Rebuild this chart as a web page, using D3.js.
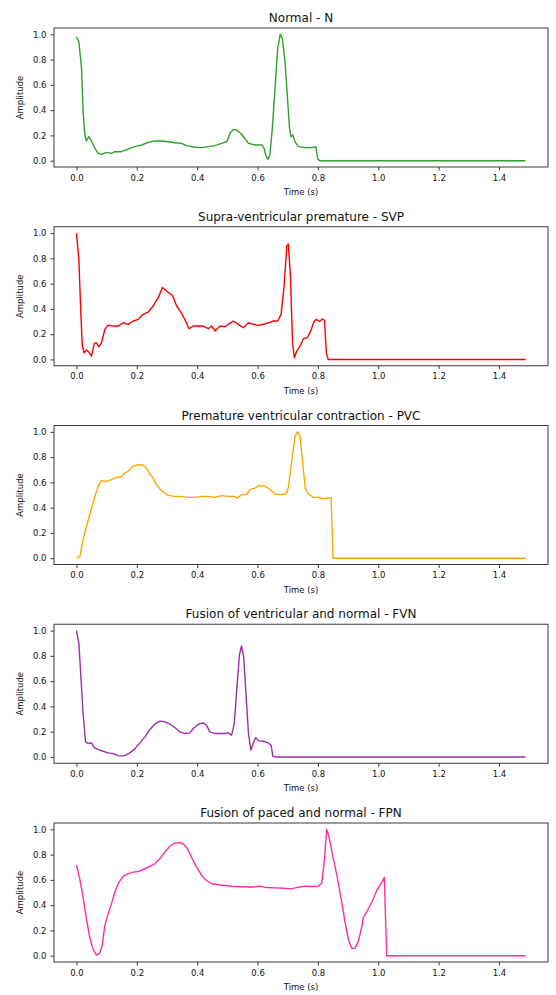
<!DOCTYPE html>
<html>
<head>
<meta charset="utf-8">
<script src="https://cdn.jsdelivr.net/npm/d3@7"></script>
<style>
body{margin:0;background:#fff}
svg{display:block;font-family:"DejaVu Sans",sans-serif}
</style>
</head>
<body>
<script>
// titles and colours of the five beat classes
var titles = ['Normal - N', 'Supra-ventricular premature - SVP', 'Premature ventricular contraction - PVC',
              'Fusion of ventricular and normal - FVN', 'Fusion of paced and normal - FPN'];
var colors = ['#2ca02c', '#ff0000', '#ffa500', '#9a2fa8', '#ff2f9c'];
var xTicks = [0, 0.2, 0.4, 0.6, 0.8, 1.0, 1.2, 1.4];
var yTicks = [0, 0.2, 0.4, 0.6, 0.8, 1.0];

// time (s) and amplitude
var nT = [0,0.008,0.017,0.022,0.028,0.033,0.041,0.05,0.061,0.072,0.083,0.1,0.116,0.127,0.149,0.171,0.194,0.216,0.238,0.26,0.282,0.304,0.326,0.348,0.365,0.393,0.415,0.437,0.459,0.481,0.498,0.509,0.52,0.531,0.547,0.57,0.592,0.614,0.622,0.627,0.634,0.641,0.649,0.658,0.667,0.675,0.682,0.691,0.7,0.706,0.711,0.717,0.724,0.735,0.758,0.78,0.793,0.8,0.806,1.488];
var nV = [0.98,0.94,0.73,0.39,0.2,0.156,0.19,0.156,0.098,0.058,0.05,0.066,0.058,0.071,0.071,0.092,0.111,0.124,0.145,0.156,0.156,0.15,0.142,0.137,0.119,0.106,0.103,0.111,0.119,0.137,0.15,0.217,0.248,0.243,0.209,0.137,0.124,0.124,0.098,0.045,0.01,0.045,0.256,0.574,0.891,1.0,0.97,0.785,0.468,0.256,0.19,0.204,0.151,0.111,0.103,0.103,0.11,0.01,0,0];

var svpT = [0,0.008,0.014,0.019,0.025,0.033,0.041,0.05,0.059,0.066,0.074,0.083,0.094,0.105,0.122,0.138,0.155,0.171,0.188,0.205,0.221,0.238,0.254,0.271,0.285,0.302,0.318,0.332,0.348,0.359,0.373,0.387,0.404,0.42,0.437,0.448,0.459,0.476,0.492,0.503,0.52,0.536,0.553,0.57,0.586,0.603,0.619,0.636,0.652,0.667,0.678,0.688,0.697,0.702,0.709,0.716,0.722,0.73,0.741,0.752,0.765,0.777,0.787,0.795,0.805,0.815,0.822,0.828,0.834,1.488];
var svpV = [1.0,0.79,0.4,0.12,0.053,0.074,0.058,0.026,0.127,0.132,0.1,0.132,0.238,0.27,0.264,0.264,0.29,0.278,0.304,0.317,0.357,0.375,0.423,0.489,0.569,0.534,0.508,0.423,0.365,0.317,0.243,0.264,0.264,0.264,0.243,0.264,0.225,0.264,0.259,0.278,0.304,0.278,0.251,0.29,0.278,0.27,0.278,0.29,0.304,0.304,0.357,0.582,0.899,0.913,0.661,0.132,0.013,0.066,0.106,0.164,0.172,0.23,0.3,0.317,0.3,0.32,0.31,0.05,0,0];

var pvcT = [0,0.011,0.022,0.033,0.044,0.061,0.072,0.083,0.1,0.116,0.133,0.147,0.16,0.171,0.188,0.205,0.221,0.232,0.243,0.254,0.265,0.282,0.304,0.326,0.348,0.37,0.393,0.415,0.437,0.459,0.481,0.503,0.52,0.534,0.547,0.564,0.575,0.592,0.605,0.625,0.642,0.658,0.675,0.694,0.702,0.713,0.724,0.733,0.741,0.749,0.758,0.769,0.785,0.802,0.818,0.835,0.844,0.85,1.488];
var pvcV = [0,0.013,0.145,0.251,0.344,0.489,0.569,0.614,0.608,0.622,0.64,0.64,0.674,0.688,0.727,0.741,0.735,0.714,0.666,0.635,0.582,0.534,0.497,0.489,0.489,0.481,0.481,0.489,0.489,0.481,0.495,0.489,0.489,0.476,0.503,0.503,0.542,0.555,0.576,0.569,0.542,0.508,0.503,0.508,0.555,0.767,0.965,1.0,0.965,0.767,0.555,0.508,0.481,0.481,0.47,0.476,0.476,0,0];

var fvnT = [0,0.008,0.014,0.022,0.03,0.039,0.05,0.059,0.072,0.088,0.105,0.122,0.138,0.149,0.16,0.177,0.194,0.21,0.227,0.243,0.26,0.276,0.293,0.31,0.326,0.343,0.359,0.376,0.387,0.404,0.42,0.431,0.442,0.459,0.476,0.492,0.503,0.514,0.523,0.531,0.54,0.547,0.554,0.561,0.57,0.578,0.586,0.594,0.603,0.619,0.636,0.645,0.651,0.658,1.488];
var fvnV = [1.0,0.9,0.661,0.344,0.119,0.106,0.111,0.074,0.058,0.045,0.032,0.026,0.01,0.008,0.01,0.032,0.066,0.111,0.159,0.217,0.259,0.283,0.278,0.259,0.233,0.198,0.185,0.19,0.225,0.259,0.27,0.251,0.198,0.185,0.185,0.185,0.19,0.172,0.264,0.529,0.807,0.878,0.793,0.529,0.185,0.053,0.111,0.153,0.127,0.124,0.111,0.092,0.005,0,0];

var fpnT = [0,0.011,0.022,0.033,0.044,0.055,0.066,0.077,0.085,0.094,0.105,0.116,0.127,0.141,0.155,0.171,0.188,0.205,0.221,0.238,0.26,0.276,0.293,0.31,0.326,0.343,0.357,0.368,0.381,0.398,0.415,0.431,0.448,0.47,0.492,0.514,0.536,0.559,0.58,0.608,0.63,0.658,0.686,0.713,0.735,0.758,0.78,0.802,0.813,0.822,0.829,0.837,0.848,0.863,0.877,0.89,0.901,0.912,0.923,0.935,0.946,0.951,0.962,0.979,0.995,1.012,1.02,1.028,1.488];
var fpnV = [0.719,0.608,0.463,0.291,0.145,0.053,0.005,0.021,0.079,0.238,0.331,0.41,0.502,0.582,0.629,0.648,0.661,0.666,0.682,0.701,0.727,0.767,0.82,0.868,0.891,0.894,0.878,0.846,0.78,0.701,0.635,0.595,0.569,0.561,0.555,0.55,0.547,0.545,0.542,0.55,0.539,0.537,0.534,0.529,0.542,0.55,0.547,0.55,0.576,0.767,1.0,0.939,0.806,0.635,0.449,0.264,0.132,0.058,0.058,0.119,0.238,0.304,0.349,0.423,0.516,0.582,0.62,0,0];

var series = [[nT,nV],[svpT,svpV],[pvcT,pvcV],[fvnT,fvnV],[fpnT,fpnV]];

var width = 556, height = 995,
    left = 54, right = 548, top0 = 28, pitch = 198.75, ph = 139;

var svg = d3.select('body').append('svg').attr('width', width).attr('height', height);
svg.append('rect').attr('width', width).attr('height', height).attr('fill', '#fff');

// matplotlib style 5% margins
var x = d3.scaleLinear().domain([-0.0744, 1.5624]).range([left, right]);
var y = d3.scaleLinear().domain([-0.05, 1.05]).range([ph, 0]);

var line = d3.line().x(function(d){return x(d[0]);}).y(function(d){return y(d[1]);});

series.forEach(function(s, i){
	var g = svg.append('g').attr('transform', 'translate(0,' + (top0 + i*pitch) + ')');

	g.append('path')
	 .attr('d', line(d3.zip(s[0], s[1])))
	 .attr('fill', 'none')
	 .attr('stroke', colors[i])
	 .attr('stroke-width', 1.4)
	 .attr('stroke-linejoin', 'round');

	g.append('rect')
	 .attr('x', left).attr('y', 0).attr('width', right-left).attr('height', ph)
	 .attr('fill', 'none').attr('stroke', '#3a3a3a').attr('stroke-width', 1);

	var xa = g.append('g').attr('transform', 'translate(0,' + ph + ')')
	          .call(d3.axisBottom(x).tickValues(xTicks).tickFormat(d3.format('.1f')).tickSize(3.5).tickPadding(4));
	var ya = g.append('g').attr('transform', 'translate(' + left + ',0)')
	          .call(d3.axisLeft(y).tickValues(yTicks).tickFormat(d3.format('.1f')).tickSize(3.5).tickPadding(4));
	[xa, ya].forEach(function(a){
		a.select('.domain').remove();
		a.attr('font-family', null).attr('font-size', 8.5);
		a.selectAll('line').attr('stroke', '#3a3a3a');
		a.selectAll('text').attr('fill', '#111');
	});

	g.append('text').text(titles[i])
	 .attr('x', (left+right)/2).attr('y', -6)
	 .attr('text-anchor', 'middle').attr('font-size', 12).attr('fill', '#111');

	g.append('text').text('Time (s)')
	 .attr('x', (left+right)/2).attr('y', ph + 28)
	 .attr('text-anchor', 'middle').attr('font-size', 8.5).attr('fill', '#111');

	g.append('text').text('Amplitude')
	 .attr('transform', 'translate(23,' + (ph/2) + ') rotate(-90)')
	 .attr('text-anchor', 'middle').attr('font-size', 8.5).attr('fill', '#111');
});
</script>
</body>
</html>
